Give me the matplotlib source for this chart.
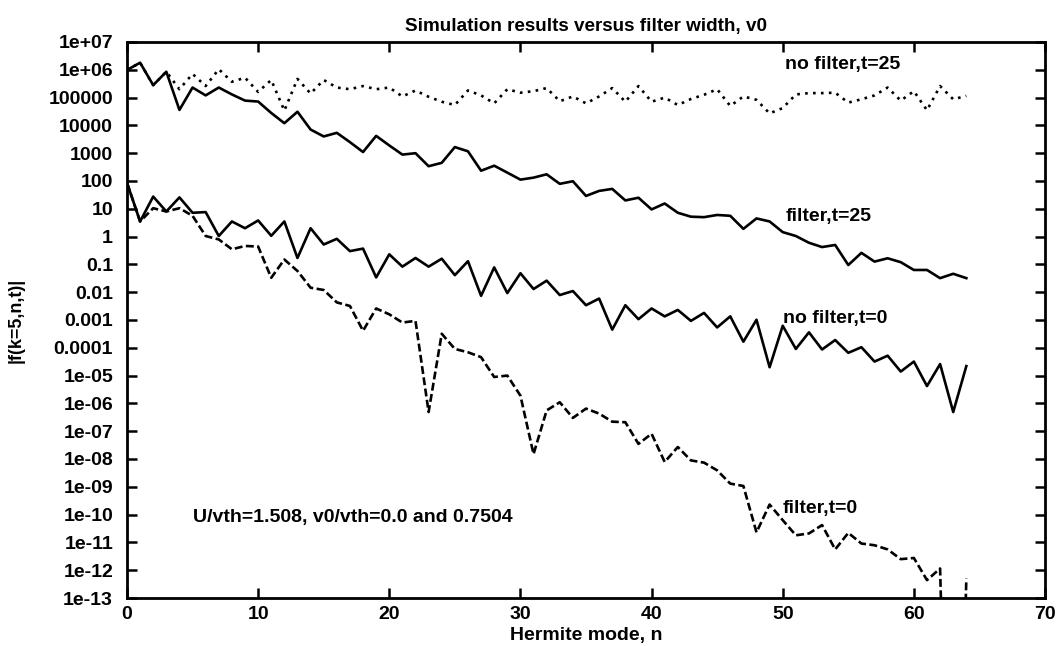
import numpy as np
import matplotlib
matplotlib.use("Agg")
import matplotlib.pyplot as plt
from matplotlib.ticker import FixedLocator, FuncFormatter

plt.rcParams['font.family'] = ['Liberation Sans', 'DejaVu Sans']
plt.rcParams['font.weight'] = 'bold'

# Hermite mode index
modes = np.arange(65)

# |f(k=5,n,t)| for the four runs
no_filter_t25 = [
    9.8e5, 1.8e6, 2.8e5, 8.5e5, 2.0e5, 7.1e5, 2.6e5, 1.05e6, 3.7e5, 5.2e5,
    1.6e5, 4.3e5, 3.4e4, 4.7e5, 1.4e5, 4.3e5, 2.3e5, 2.0e5, 2.6e5, 2.0e5,
    2.3e5, 1.1e5, 1.8e5, 1.07e5, 7.1e4, 5.4e4, 1.8e5, 1.2e5, 6.2e4, 2.0e5,
    1.5e5, 1.7e5, 2.2e5, 7.4e4, 1.1e5, 6.2e4, 1.1e5, 2.2e5, 7.1e4, 2.6e5,
    7.1e4, 1.0e5, 5.4e4, 8.9e4, 1.26e5, 2.0e5, 5.0e4, 1.1e5, 8.3e4, 2.7e4,
    4.2e4, 1.3e5, 1.45e5, 1.45e5, 1.5e5, 6.6e4, 8.7e4, 1.2e5, 2.3e5, 7.8e4,
    1.7e5, 3.5e4, 2.6e5, 8.7e4, 1.15e5,
]
filter_t25 = [
    9.8e5, 1.8e6, 2.8e5, 8.5e5, 3.6e4, 2.3e5, 1.2e5, 2.3e5, 1.3e5, 7.8e4,
    7.2e4, 2.8e4, 1.2e4, 3.1e4, 7.1e3, 4.0e3, 5.4e3, 2.5e3, 1.1e3, 4.2e3,
    1.9e3, 890, 1000, 340, 450, 1660, 1170, 234, 355, 200,
    112, 132, 174, 79, 98, 29, 44, 52, 20, 25,
    9.5, 15.5, 7.2, 5.2, 5.0, 6.0, 5.6, 1.9, 4.5, 3.5,
    1.45, 1.05, 0.6, 0.42, 0.5, 0.095, 0.26, 0.126, 0.166, 0.12,
    0.063, 0.063, 0.032, 0.046, 0.032,
]
no_filter_t0 = [
    87, 3.5, 27.5, 8.0, 25.7, 7.2, 7.6, 1.05, 3.5, 2.0,
    3.8, 1.07, 3.5, 0.17, 2.0, 0.52, 0.83, 0.30, 0.37, 0.034,
    0.23, 0.083, 0.17, 0.083, 0.16, 0.041, 0.13, 0.0074, 0.078, 0.0093,
    0.048, 0.013, 0.026, 0.0079, 0.011, 0.0034, 0.0059, 4.5e-4, 3.4e-3, 1.07e-3,
    2.6e-3, 1.35e-3, 2.3e-3, 9.3e-4, 1.8e-3, 5.4e-4, 1.35e-3, 1.66e-4, 1.02e-3, 2.0e-5,
    6.2e-4, 9.1e-5, 3.6e-4, 8.7e-5, 1.9e-4, 6.6e-5, 1.05e-4, 3.2e-5, 5.2e-5, 1.4e-5,
    3.2e-5, 4.2e-6, 2.6e-5, 4.9e-7, 2.2e-5,
]
filter_t0 = [
    87, 3.5, 10.5, 8.0, 10.5, 5.6, 1.05, 0.79, 0.35, 0.46,
    0.44, 0.033, 0.15, 0.058, 0.0145, 0.012, 4.3e-3, 3.2e-3, 4.1e-4, 2.6e-3,
    1.6e-3, 8.1e-4, 9.3e-4, 4.9e-7, 3.2e-4, 9.1e-5, 6.9e-5, 4.6e-5, 8.9e-6, 1.0e-5,
    1.9e-6, 1.5e-8, 5.6e-7, 1.1e-6, 3.0e-7, 6.5e-7, 4.3e-7, 2.2e-7, 2.1e-7, 3.5e-8,
    8.1e-8, 7.8e-9, 2.7e-8, 8.9e-9, 7.4e-9, 3.9e-9, 1.3e-9, 1.07e-9, 2.3e-11, 2.3e-10,
    6.3e-11, 1.8e-11, 2.1e-11, 4.2e-11, 5.6e-12, 2.2e-11, 9.1e-12, 7.9e-12, 5.6e-12, 2.5e-12,
    2.75e-12, 4.4e-13, 1.15e-12, 1e-30, 5.0e-13,
]

fig = plt.figure(figsize=(10.59, 6.46), dpi=100)
ax = fig.add_axes([0.1199, 0.0743, 0.8669, 0.8607])

lw = 1.9
ax.plot(modes, no_filter_t25, color='black', lw=lw, linestyle=(0, (1.0, 2.0)))
ax.plot(modes, filter_t25, color='black', lw=lw)
ax.plot(modes, no_filter_t0, color='black', lw=lw)
ax.plot(modes, filter_t0, color='black', lw=lw, linestyle=(0, (3.0, 1.3)))

ax.set_yscale('log')
ax.set_xlim(0, 70)
ax.set_ylim(1e-13, 1e7)
ax.xaxis.set_major_locator(FixedLocator(np.arange(0, 71, 10)))
ax.yaxis.set_major_locator(FixedLocator([10.0 ** k for k in range(-13, 8)]))
ax.yaxis.set_minor_locator(FixedLocator([]))
ax.yaxis.set_major_formatter(FuncFormatter(lambda v, p: '%g' % v))

ax.tick_params(which='both', direction='in', top=True, right=True,
               length=7, width=1.8, labelsize=14)
ax.tick_params(axis='y', pad=10)
ax.tick_params(axis='x', pad=6)
for lab in ax.get_xticklabels() + ax.get_yticklabels():
    lab.set_fontweight('bold')
for sp in ax.spines.values():
    sp.set_linewidth(2.0)

txt = dict(fontsize=14, fontweight='bold', va='center', ha='left')
ax.text(50.2, 1.5e6, 'no filter,t=25', **txt)
ax.text(50.2, 5.1, 'filter,t=25', **txt)
ax.text(50.0, 1.1e-3, 'no filter,t=0', **txt)
ax.text(50.0, 1.7e-10, 'filter,t=0', **txt)
ax.text(5.0, 8e-11, 'U/vth=1.508, v0/vth=0.0 and 0.7504', **txt)

ax.set_title('Simulation results versus filter width, v0',
             fontsize=13.6, fontweight='bold', pad=8)
ax.set_xlabel('Hermite mode, n', fontsize=14, fontweight='bold')
ax.xaxis.set_label_coords(0.5, -0.052)
ax.set_ylabel('|f(k=5,n,t)|', fontsize=13, fontweight='bold')
ax.yaxis.set_label_coords(-0.112, 0.5)

fig.savefig('out.png', dpi=100)
